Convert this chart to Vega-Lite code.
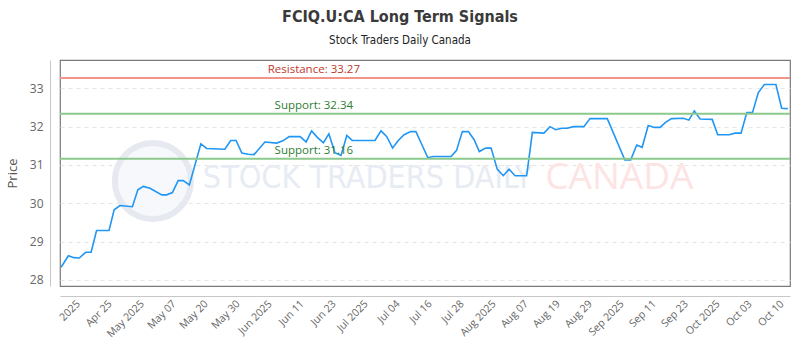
{
  "$schema": "https://vega.github.io/schema/vega-lite/v6.json",
  "width": 730,
  "height": 226,
  "autosize": "none",
  "padding": {"left": 60, "top": 60, "right": 10, "bottom": 64},
  "background": "white",
  "config": {
    "view": {"stroke": "#7a7a7a", "strokeWidth": 1.2},
    "font": "Open Sans",
    "axisX": {"labelOverlap": false, "labelBound": false}
  },
  "title": {
    "text": "FCIQ.U:CA Long Term Signals",
    "subtitle": "Stock Traders Daily Canada",
    "anchor": "middle",
    "dx": -25,
    "offset": 14,
    "font": "'DejaVu Sans Condensed', Roboto, sans-serif",
    "fontSize": 16,
    "fontWeight": "bold",
    "color": "#3a3a3a",
    "subtitleFont": "'DejaVu Sans Condensed', Roboto, sans-serif",
    "subtitleFontSize": 11.5,
    "subtitleColor": "#222",
    "subtitlePadding": 10
  },
  "datasets": {
    "prices": [
      {"t": -0.53, "price": 28.33}, {"t": -0.30, "price": 28.63}, {"t": -0.13, "price": 28.58},
      {"t": 0.04, "price": 28.57}, {"t": 0.24, "price": 28.72}, {"t": 0.41, "price": 28.72},
      {"t": 0.58, "price": 29.29}, {"t": 0.97, "price": 29.29}, {"t": 1.13, "price": 29.83},
      {"t": 1.31, "price": 29.94}, {"t": 1.70, "price": 29.91}, {"t": 1.87, "price": 30.35},
      {"t": 2.04, "price": 30.44}, {"t": 2.25, "price": 30.39}, {"t": 2.62, "price": 30.22},
      {"t": 2.77, "price": 30.22}, {"t": 2.95, "price": 30.28}, {"t": 3.13, "price": 30.59},
      {"t": 3.29, "price": 30.59}, {"t": 3.48, "price": 30.48}, {"t": 3.84, "price": 31.55},
      {"t": 4.02, "price": 31.43}, {"t": 4.59, "price": 31.41}, {"t": 4.77, "price": 31.64},
      {"t": 4.94, "price": 31.64}, {"t": 5.12, "price": 31.31}, {"t": 5.32, "price": 31.28},
      {"t": 5.50, "price": 31.27}, {"t": 5.84, "price": 31.60}, {"t": 6.21, "price": 31.57},
      {"t": 6.40, "price": 31.63}, {"t": 6.60, "price": 31.74}, {"t": 6.94, "price": 31.74},
      {"t": 7.13, "price": 31.60}, {"t": 7.30, "price": 31.89}, {"t": 7.48, "price": 31.72},
      {"t": 7.67, "price": 31.58}, {"t": 7.84, "price": 31.81}, {"t": 8.03, "price": 31.32},
      {"t": 8.22, "price": 31.25}, {"t": 8.40, "price": 31.77}, {"t": 8.57, "price": 31.64},
      {"t": 9.28, "price": 31.64}, {"t": 9.47, "price": 31.89}, {"t": 9.65, "price": 31.74},
      {"t": 9.83, "price": 31.44}, {"t": 10.01, "price": 31.64}, {"t": 10.19, "price": 31.79},
      {"t": 10.40, "price": 31.87}, {"t": 10.56, "price": 31.87}, {"t": 10.74, "price": 31.54},
      {"t": 10.93, "price": 31.19}, {"t": 11.10, "price": 31.22}, {"t": 11.66, "price": 31.22},
      {"t": 11.83, "price": 31.38}, {"t": 12.01, "price": 31.87}, {"t": 12.20, "price": 31.87},
      {"t": 12.38, "price": 31.66}, {"t": 12.54, "price": 31.35}, {"t": 12.74, "price": 31.44},
      {"t": 12.91, "price": 31.44}, {"t": 13.10, "price": 30.89}, {"t": 13.29, "price": 30.72},
      {"t": 13.47, "price": 30.89}, {"t": 13.66, "price": 30.72}, {"t": 14.02, "price": 30.72},
      {"t": 14.20, "price": 31.85}, {"t": 14.56, "price": 31.83}, {"t": 14.75, "price": 32.00},
      {"t": 14.93, "price": 31.92}, {"t": 15.12, "price": 31.96}, {"t": 15.29, "price": 31.96},
      {"t": 15.48, "price": 32.00}, {"t": 15.81, "price": 32.00}, {"t": 16.00, "price": 32.21},
      {"t": 16.54, "price": 32.21}, {"t": 17.09, "price": 31.13}, {"t": 17.27, "price": 31.13},
      {"t": 17.46, "price": 31.52}, {"t": 17.63, "price": 31.46}, {"t": 17.82, "price": 32.03},
      {"t": 18.01, "price": 31.98}, {"t": 18.19, "price": 31.98}, {"t": 18.37, "price": 32.12},
      {"t": 18.55, "price": 32.21}, {"t": 18.92, "price": 32.22}, {"t": 19.09, "price": 32.17},
      {"t": 19.26, "price": 32.41}, {"t": 19.44, "price": 32.20}, {"t": 19.82, "price": 32.19},
      {"t": 19.99, "price": 31.79}, {"t": 20.35, "price": 31.79}, {"t": 20.53, "price": 31.83},
      {"t": 20.72, "price": 31.83}, {"t": 20.90, "price": 32.37}, {"t": 21.08, "price": 32.37},
      {"t": 21.26, "price": 32.89}, {"t": 21.45, "price": 33.10}, {"t": 21.81, "price": 33.10},
      {"t": 21.99, "price": 32.48}, {"t": 22.18, "price": 32.47}
    ],
    "levels": [
      {"price": 33.27, "kind": "Resistance", "label": "Resistance: 33.27", "t": 7.37},
      {"price": 32.34, "kind": "Support", "label": "Support: 32.34", "t": 7.37},
      {"price": 31.16, "kind": "Support", "label": "Support: 31.16", "t": 7.37}
    ],
    "watermark": [
      {"t": 3.9, "price": 30.66, "text": "STOCK TRADERS DAILY", "kind": "main"},
      {"t": 14.6, "price": 30.66, "text": "CANADA", "kind": "country"}
    ],
    "logo": [
      {"t": 2.34, "price": 30.58}
    ]
  },
  "layer": [
    {
      "data": {"name": "logo"},
      "mark": {"type": "point", "shape": "circle", "size": 5800, "filled": false, "fill": "#f6f8fb", "fillOpacity": 1, "stroke": "#e6eaf0", "strokeWidth": 6, "opacity": 1},
      "encoding": {
        "x": {"field": "t", "type": "quantitative"},
        "y": {"field": "price", "type": "quantitative"}
      }
    },
    {
      "data": {"name": "watermark"},
      "transform": [{"filter": "datum.kind === 'main'"}],
      "mark": {"type": "text", "align": "left", "baseline": "middle", "font": "'DejaVu Sans Condensed', Roboto, sans-serif", "fontSize": 32, "color": "#e7ecf4"},
      "encoding": {
        "x": {"field": "t", "type": "quantitative"},
        "y": {"field": "price", "type": "quantitative"},
        "text": {"field": "text"}
      }
    },
    {
      "data": {"name": "watermark"},
      "transform": [{"filter": "datum.kind === 'country'"}],
      "mark": {"type": "text", "align": "left", "baseline": "middle", "font": "Open Sans", "fontSize": 37, "color": "#fde4e4"},
      "encoding": {
        "x": {"field": "t", "type": "quantitative"},
        "y": {"field": "price", "type": "quantitative"},
        "text": {"field": "text"}
      }
    },
    {
      "data": {"name": "prices"},
      "mark": {"type": "line", "color": "#2196f3", "strokeWidth": 1.6},
      "encoding": {
        "x": {
          "field": "t", "type": "quantitative",
          "scale": {"domain": [-0.5625, 22.25], "nice": false, "zero": false},
          "axis": {
            "title": null,
            "values": [0, 1, 2, 3, 4, 5, 6, 7, 8, 9, 10, 11, 12, 13, 14, 15, 16, 17, 18, 19, 20, 21, 22],
            "tickCount": 40,
            "labelExpr": "['2025','Apr 25','May 2025','May 07','May 20','May 30','Jun 2025','Jun 11','Jun 23','Jul 2025','Jul 04','Jul 16','Jul 28','Aug 2025','Aug 07','Aug 19','Aug 29','Sep 2025','Sep 11','Sep 23','Oct 2025','Oct 03','Oct 10'][datum.value]",
            "labelAngle": -45,
            "labelAlign": "right",
            "labelBaseline": "middle",
            "labelFontSize": 10.5,
            "labelColor": "#666",
            "labelPadding": 6,
            "labelOverlap": false,
            "labelBound": false,
            "ticks": false,
            "grid": false,
            "domainColor": "#c8c8c8",
            "offset": 10
          }
        },
        "y": {
          "field": "price", "type": "quantitative",
          "scale": {"domain": [27.84, 33.74], "nice": false, "zero": false},
          "axis": {
            "title": "Price",
            "titleFont": "Open Sans",
            "titleFontSize": 13,
            "titleFontWeight": "normal",
            "titleColor": "#555",
            "titlePadding": 10,
            "values": [28, 29, 30, 31, 32, 33],
            "labelFontSize": 12,
            "labelColor": "#666",
            "labelPadding": 7,
            "ticks": false,
            "grid": true,
            "gridColor": "#e6e6e6",
            "gridDash": [4, 4],
            "domainColor": "#c8c8c8",
            "offset": 10
          }
        }
      }
    },
    {
      "data": {"name": "levels"},
      "mark": {"type": "rule", "strokeWidth": 2},
      "encoding": {
        "y": {"field": "price", "type": "quantitative"},
        "color": {
          "field": "kind", "type": "nominal", "legend": null,
          "scale": {"domain": ["Resistance", "Support"], "range": ["#f1948a", "#8cc98c"]}
        }
      }
    },
    {
      "data": {"name": "levels"},
      "mark": {"type": "text", "align": "center", "baseline": "bottom", "dy": -3, "fontSize": 11.5, "font": "Open Sans"},
      "encoding": {
        "x": {"field": "t", "type": "quantitative"},
        "y": {"field": "price", "type": "quantitative"},
        "text": {"field": "label"},
        "color": {
          "field": "kind", "type": "nominal", "legend": null,
          "scale": {"domain": ["Resistance", "Support"], "range": ["#c0392b", "#2e7d32"]}
        }
      }
    }
  ],
  "resolve": {"scale": {"color": "independent"}}
}
